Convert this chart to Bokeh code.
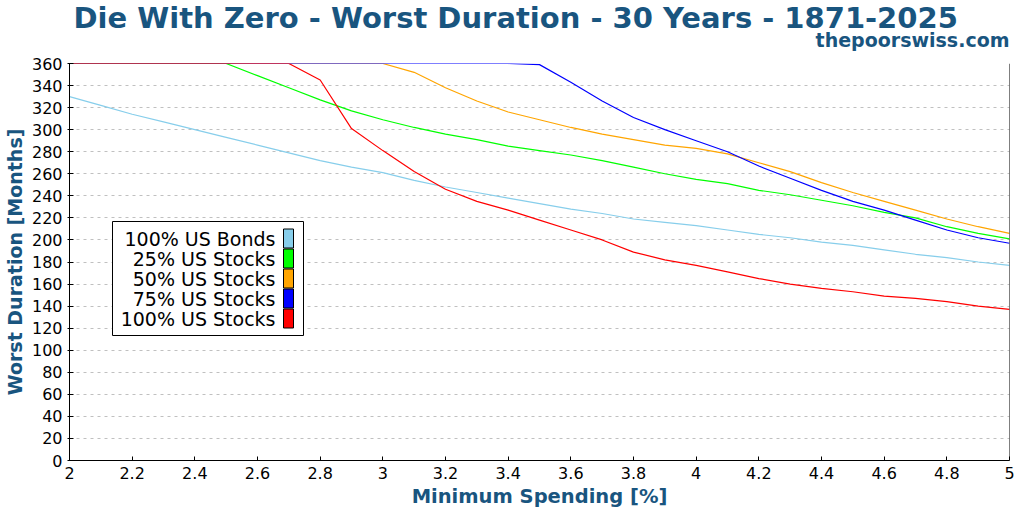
from bokeh.plotting import figure
from bokeh.models import (Title, BoxAnnotation, Label, FixedTicker, CustomJSTickFormatter,
                          Span)
from bokeh.embed import file_html
from bokeh.resources import INLINE

# Minimum spending rate [%]
spend = [2.0, 2.1, 2.2, 2.3, 2.4, 2.5, 2.6, 2.7, 2.8, 2.9,
         3.0, 3.1, 3.2, 3.3, 3.4, 3.5, 3.6, 3.7, 3.8, 3.9,
         4.0, 4.1, 4.2, 4.3, 4.4, 4.5, 4.6, 4.7, 4.8, 4.9, 5.0]

# Worst duration [months] per allocation
bonds100 = [330, 322, 314, 307, 300, 293, 286, 279, 272, 266,
            261, 254, 248, 243, 238, 233, 228, 224, 219, 216,
            213, 209, 205, 202, 198, 195, 191, 187, 184, 180, 177]
stocks25 = [360, 360, 360, 360, 360, 360, 349, 338, 327, 317,
            309, 302, 296, 291, 285, 281, 277, 272, 266, 260,
            255, 251, 245, 241, 236, 231, 225, 220, 212, 206, 201]
stocks50 = [360, 360, 360, 360, 360, 360, 360, 360, 360, 360,
            360, 352, 338, 326, 316, 309, 302, 296, 291, 286,
            283, 278, 270, 262, 252, 243, 235, 227, 219, 212, 206]
stocks75 = [360, 360, 360, 360, 360, 360, 360, 360, 360, 360,
            360, 360, 360, 360, 360, 359, 343, 326, 311, 300,
            290, 280, 267, 256, 245, 235, 227, 218, 209, 202, 197]
stocks100 = [360, 360, 360, 360, 360, 360, 360, 360, 345, 301,
             281, 262, 246, 235, 227, 218, 209, 200, 189, 182,
             177, 171, 165, 160, 156, 153, 149, 147, 144, 140, 137]

series_names = ["100% US Bonds", "25% US Stocks", "50% US Stocks",
                "75% US Stocks", "100% US Stocks"]
series_values = [bonds100, stocks25, stocks50, stocks75, stocks100]
series_colors = ["#87ceeb", "#00ff00", "#ffa500", "#0000ff", "#ff0000"]

x_ticks = [2.0, 2.2, 2.4, 2.6, 2.8, 3.0, 3.2, 3.4, 3.6, 3.8,
           4.0, 4.2, 4.4, 4.6, 4.8, 5.0]
y_ticks = [0, 20, 40, 60, 80, 100, 120, 140, 160, 180,
           200, 220, 240, 260, 280, 300, 320, 340, 360]

x_start, x_end = 2, 5
y_start, y_end = 0, 360

BLUE = "#19557f"
FONT = "DejaVu Sans"

p = figure(width=1024, height=512, x_range=(x_start, x_end), y_range=(y_start, y_end),
           output_backend="svg", toolbar_location=None, title=None,
           min_border_left=69, min_border_right=15, min_border_top=63,
           min_border_bottom=52)
p.outline_line_color = None
p.background_fill_color = "white"
p.border_fill_color = "white"

# Stacked headings: subtitle first (closest to plot), main title above it.
# The main title overlaps the subtitle's band through a negative standoff.
p.add_layout(Title(text="thepoorswiss.com", align="right", vertical_align="top",
                   text_font=FONT, text_font_size="19px", text_font_style="bold",
                   text_color=BLUE, standoff=22, text_line_height=1.0), "above")
p.add_layout(Title(text="Die With Zero - Worst Duration - 30 Years - 1871-2025",
                   align="left", offset=4, vertical_align="bottom", text_font=FONT,
                   text_font_size="29px", text_font_style="bold",
                   text_color=BLUE, standoff=-35, text_line_height=1.0), "above")

for name, vals, col in zip(series_names, series_values, series_colors):
    p.line(spend, vals, line_color=col, line_width=1.2)

# Axes
p.xaxis.ticker = FixedTicker(ticks=x_ticks)
p.xaxis.formatter = CustomJSTickFormatter(code="return String(Math.round(tick*10)/10);")
p.yaxis.ticker = FixedTicker(ticks=y_ticks)
for ax in (p.xaxis, p.yaxis):
    ax.axis_line_color = "black"
    ax.major_tick_line_color = "black"
    ax.minor_tick_line_color = None
    ax.major_label_text_font = FONT
    ax.major_label_text_font_size = "16px"
    ax.major_label_text_color = "black"
    ax.axis_label_text_font = FONT
    ax.axis_label_text_font_style = "bold"
    ax.axis_label_text_color = BLUE
p.xaxis.axis_label_text_font_size = "19.5px"
p.yaxis.axis_label_text_font_size = "19px"
p.xaxis.major_tick_in = 4
p.xaxis.major_tick_out = 0
p.yaxis.major_tick_in = 4
p.yaxis.major_tick_out = 2
p.xaxis.axis_label = "Minimum Spending [%]"
p.yaxis.axis_label = "Worst Duration [Months]"
p.xaxis.major_label_standoff = 6
p.xaxis.axis_label_standoff = 3
p.yaxis.major_label_standoff = 5
p.yaxis.axis_label_standoff = 3

p.xgrid.grid_line_color = None
p.ygrid.ticker = FixedTicker(ticks=y_ticks)
p.ygrid.grid_line_color = "#c0c0c0"
p.ygrid.grid_line_dash = "3 4"
p.ygrid.grid_line_width = 1

# Right border of the plotting area
p.add_layout(Span(location=x_end, dimension="height", line_color="black", line_width=1))

# Legend: labels right-aligned with colour swatches to their right
p.add_layout(BoxAnnotation(left=112, right=303, top=221, bottom=335,
                           left_units="canvas", right_units="canvas",
                           top_units="canvas", bottom_units="canvas",
                           fill_color="white", fill_alpha=1,
                           line_color="black", line_alpha=1, line_width=1))
for i, (name, col) in enumerate(zip(series_names, series_colors)):
    cy = 238 + 20 * i
    p.add_layout(Label(x=275, y=cy, x_units="canvas", y_units="canvas", text=name,
                       text_align="right", text_baseline="middle",
                       text_font=FONT, text_font_size="19px", text_color="black"))
    p.add_layout(BoxAnnotation(left=283, right=293, top=cy - 9.5, bottom=cy + 9.5,
                               left_units="canvas", right_units="canvas",
                               top_units="canvas", bottom_units="canvas",
                               fill_color=col, fill_alpha=1,
                               line_color="black", line_alpha=1, line_width=1))

open("out.html", "w").write(file_html(p, INLINE))
